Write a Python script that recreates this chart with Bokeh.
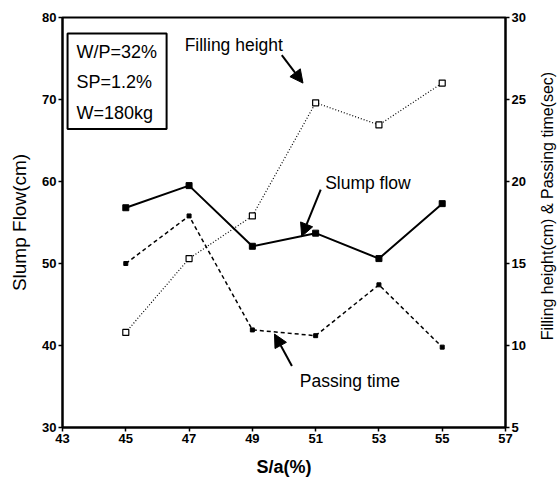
import math
from bokeh.plotting import figure
from bokeh.layouts import row
from bokeh.models import Range1d, LinearAxis, Arrow, NormalHead, FixedTicker, Label, BoxAnnotation
from bokeh.core.properties import value
from bokeh.embed import file_html
from bokeh.resources import INLINE

sa = [45, 47, 49, 51, 53, 55]
slump_flow = [56.8, 59.5, 52.1, 53.7, 50.6, 57.3]
filling_height = [10.8, 15.3, 17.9, 24.8, 23.45, 26.0]
passing_time = [15.0, 17.9, 10.95, 10.6, 13.7, 9.9]
x_ticks = [43, 45, 47, 49, 51, 53, 55, 57]
left_ticks = [30, 40, 50, 60, 70, 80]
right_ticks = [5, 10, 15, 20, 25, 30]
info_lines = ["W/P=32%", "SP=1.2%", "W=180kg"]
right_label = "Filling height(cm) & Passing time(sec)"

FONT = "Liberation Sans"

p = figure(width=538, height=479, output_backend="svg", toolbar_location=None,
           x_range=Range1d(43, 57), y_range=Range1d(30, 80),
           min_border_left=62, min_border_right=33, min_border_top=17, min_border_bottom=51)
p.extra_y_ranges = {"right": Range1d(5, 30)}
p.xgrid.visible = False
p.ygrid.visible = False
p.outline_line_color = "black"
p.outline_line_width = 2
p.background_fill_color = "white"
p.border_fill_color = "white"

right_axis = LinearAxis(y_range_name="right")
p.add_layout(right_axis, "right")

for ax in [p.xaxis[0], p.yaxis[0], right_axis]:
    ax.axis_line_width = 2
    ax.axis_line_color = "black"
    ax.major_tick_line_width = 1.5
    ax.major_tick_out = 4
    ax.major_tick_in = 0
    ax.minor_tick_line_color = None
    ax.major_label_text_font = FONT
    ax.major_label_text_font_style = "bold"
    ax.major_label_text_font_size = "13px"
    ax.major_label_text_color = "black"
    ax.axis_label_text_font = FONT
    ax.axis_label_text_font_style = "normal"
    ax.axis_label_text_color = "black"
    ax.major_label_standoff = 2

p.xaxis[0].ticker = FixedTicker(ticks=x_ticks)
p.yaxis[0].ticker = FixedTicker(ticks=left_ticks)
right_axis.ticker = FixedTicker(ticks=right_ticks)
p.xaxis[0].axis_label = "S/a(%)"
p.xaxis[0].axis_label_text_font_style = "bold"
p.xaxis[0].axis_label_text_font_size = "18px"
p.xaxis[0].axis_label_standoff = 11
p.yaxis[0].axis_label = "Slump Flow(cm)"
p.yaxis[0].axis_label_text_font_size = "19px"
p.yaxis[0].axis_label_standoff = 9

# series
p.line(sa, slump_flow, line_color="black", line_width=2)
p.scatter(sa, slump_flow, marker="square", size=6, fill_color="black", line_color="black")

p.line(sa, filling_height, y_range_name="right", line_color="black", line_width=1.2, line_dash="1 2")
p.scatter(sa, filling_height, y_range_name="right", marker="square", size=6,
          fill_color="white", line_color="black", line_width=1.2)

p.line(sa, passing_time, y_range_name="right", line_color="black", line_width=1.5, line_dash="4 3")
p.scatter(sa, passing_time, y_range_name="right", marker="square", size=4,
          fill_color="black", line_color="black")

# info box
p.add_layout(BoxAnnotation(left=43.16, right=46.29, bottom=66.4, top=78.06,
                           fill_color=None, fill_alpha=0, line_color="black", line_alpha=1, line_width=2))
for txt, yy in zip(info_lines, [75.75, 72.1, 68.35]):
    p.add_layout(Label(x=43.44, y=yy, text=txt, text_font=FONT, text_font_size="18px",
                       text_baseline="middle", text_color="black"))

# annotations
p.add_layout(Label(x=46.86, y=76.7, text="Filling height", text_font=FONT, text_font_size="17.5px",
                   text_baseline="middle", text_color="black"))
p.add_layout(Label(x=51.3, y=59.8, text="Slump flow", text_font=FONT, text_font_size="17.5px",
                   text_baseline="middle", text_color="black"))
p.add_layout(Label(x=50.5, y=35.7, text="Passing time", text_font=FONT, text_font_size="17.5px",
                   text_baseline="middle", text_color="black"))

def arrow(x0, y0, x1, y1):
    p.add_layout(Arrow(x_start=x0, y_start=y0, x_end=x1, y_end=y1, line_width=2, line_color="black",
                       end=NormalHead(size=13, fill_color="black", line_color="black", line_width=1)))

arrow(49.93, 75.4, 50.6, 72.0)
arrow(51.16, 59.0, 50.56, 53.3)
arrow(50.25, 37.5, 49.7, 41.4)

# right axis title in a narrow strip, reading bottom-to-top
strip = figure(width=20, height=479, output_backend="svg", toolbar_location=None,
               x_range=Range1d(0, 1), y_range=Range1d(0, 1),
               min_border_left=0, min_border_right=0, min_border_top=0, min_border_bottom=0)
strip.axis.visible = False
strip.grid.visible = False
strip.outline_line_color = None
strip.background_fill_color = "white"
strip.border_fill_color = "white"
strip.text(x=[0.45], y=[0.54], text=[right_label], angle=math.pi / 2,
           text_align="center", text_baseline="middle",
           text_font=value(FONT), text_font_size="16px", text_color="black")

layout = row(p, strip)
open("out.html", "w").write(file_html(layout, INLINE))
